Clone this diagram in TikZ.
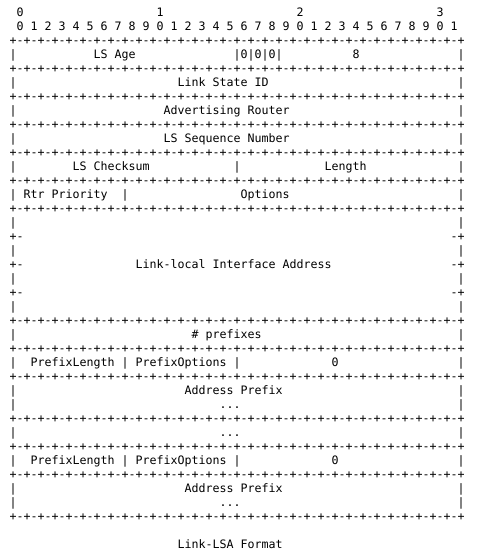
\documentclass[tikz,border=0pt]{standalone}
\usepackage{fontspec}
\newfontfamily\mono{DejaVu Sans Mono}

% una casella di testo: nome, colonna, riga, testo
\newcommand{\campo}[4]{\node[riga] (#1) at ({9.5+7*(#2)},{16.3+14*(#3)}) {#4};}
\newcommand{\bordo}{+-+-+-+-+-+-+-+-+-+-+-+-+-+-+-+-+-+-+-+-+-+-+-+-+-+-+-+-+-+-+-+-+}

\begin{document}
\begin{tikzpicture}[x=1pt,y=-1pt,
    riga/.style={anchor=base west,inner sep=0pt,outer sep=0pt,
      font=\mono\fontsize{11.63}{14}\selectfont}]

  \useasboundingbox (0,0) rectangle (491,556);

  % ---- numeri dei bit -----------------------------------------------------
  \foreach \d in {0,...,3} {\campo{dec\d}{1+20*\d}{0}{\d}}
  \foreach \b in {0,...,31} {
    \pgfmathtruncatemacro\u{mod(\b,10)}
    \campo{bit\b}{1+2*\b}{1}{\u}
  }

  % ---- bordi e lati --------------------------------------------------------
  \foreach \r in {2,4,6,8,10,12,14,22,24,26,29,31,33,36} {\campo{bordo\r}{0}{\r}{\bordo}}
  \foreach \r in {3,5,7,9,11,13,15,17,19,21,23,25,27,28,30,32,34,35} {
    \campo{sx\r}{0}{\r}{|}
    \campo{dx\r}{64}{\r}{|}
  }
  \foreach \r in {16,18,20} {
    \campo{sx\r}{0}{\r}{+-}
    \campo{dx\r}{63}{\r}{-+}
  }

  % ---- intestazione LSA ----------------------------------------------------
  \campo{eta}{12}{3}{LS Age}
  \campo{bitzero}{32}{3}{|0|0|0|}
  \campo{tipo}{49}{3}{8}
  \campo{lsid}{24}{5}{Link State ID}
  \campo{advr}{22}{7}{Advertising Router}
  \campo{seq}{22}{9}{LS Sequence Number}
  \campo{cks}{9}{11}{LS Checksum}
  \campo{sepcks}{32}{11}{|}
  \campo{lung}{45}{11}{Length}

  % ---- corpo del Link-LSA --------------------------------------------------
  \campo{prio}{2}{13}{Rtr Priority}
  \campo{sepprio}{16}{13}{|}
  \campo{opz}{33}{13}{Options}
  \campo{indir}{18}{18}{Link-local Interface Address}
  \campo{npref}{26}{23}{\# prefixes}

  \campo{plA}{3}{25}{PrefixLength | PrefixOptions |}
  \campo{zeroA}{46}{25}{0}
  \campo{apA}{25}{27}{Address Prefix}
  \campo{puntiA}{30}{28}{...}
  \campo{puntiB}{30}{30}{...}
  \campo{plB}{3}{32}{PrefixLength | PrefixOptions |}
  \campo{zeroB}{46}{32}{0}
  \campo{apB}{25}{34}{Address Prefix}
  \campo{puntiC}{30}{35}{...}

  \campo{titolo}{24}{38}{Link-LSA Format}

\end{tikzpicture}
\end{document}
